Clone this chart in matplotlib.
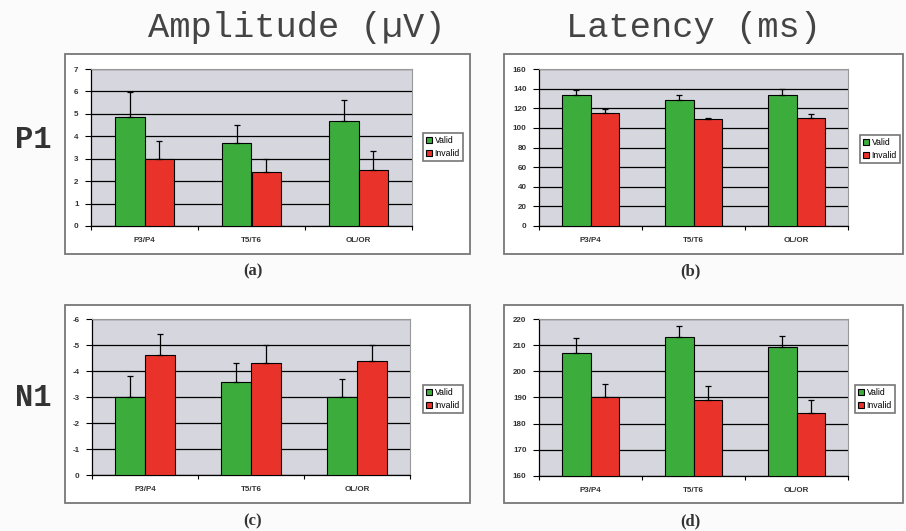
import numpy as np
import matplotlib
matplotlib.use("Agg")
import matplotlib.pyplot as plt
from matplotlib.patches import Rectangle

plt.rcParams['axes.unicode_minus'] = False
plt.rcParams['font.family'] = ['Liberation Sans', 'DejaVu Sans']

# data
sites = ['P3/P4', 'T5/T6', 'OL/OR']

p1_amp_valid = [4.87, 3.72, 4.69]
p1_amp_valid_err = [1.09, 0.77, 0.91]
p1_amp_invalid = [2.97, 2.41, 2.48]
p1_amp_invalid_err = [0.83, 0.56, 0.85]

p1_lat_valid = [133.1, 128.7, 133.8]
p1_lat_valid_err = [5.5, 4.7, 5.8]
p1_lat_invalid = [115.1, 108.6, 110.3]
p1_lat_invalid_err = [4.4, 1.4, 3.4]

n1_amp_valid = [-3.0, -3.58, -3.0]
n1_amp_valid_err = [0.8, 0.73, 0.7]
n1_amp_invalid = [-4.62, -4.31, -4.40]
n1_amp_invalid_err = [0.8, 0.68, 0.59]

n1_lat_valid = [207.1, 213.0, 209.3]
n1_lat_valid_err = [5.8, 4.2, 4.2]
n1_lat_invalid = [190.0, 189.0, 184.0]
n1_lat_invalid_err = [5.2, 5.3, 5.0]

green = '#3cad3c'
red = '#e8322a'
plot_bg = '#d6d6de'

W, H = 906, 531
fig = plt.figure(figsize=(W / 100, H / 100), dpi=100)
fig.patch.set_facecolor('#fbfbfb')


def box(x0, y0, x1, y1):
    return [x0 / W, 1 - y1 / H, (x1 - x0) / W, (y1 - y0) / H]


def panel(frame, area, valid, verr, invalid, ierr, ylim, ystep, legend_px, label, label_xy, flip=False):
    fx = box(*frame)
    fig.patches.append(Rectangle((fx[0], fx[1]), fx[2], fx[3], transform=fig.transFigure,
                                 facecolor='white', edgecolor='#777777', lw=1.3, zorder=-5))
    ax = fig.add_axes(box(*area))
    ax.set_facecolor(plot_bg)
    x = np.arange(len(sites)) + 0.5
    w = 0.28
    lo = ylim[0]
    bv = ax.bar(x - w / 2, np.array(valid) - lo, w, bottom=lo, color=green,
                edgecolor='black', lw=0.8, zorder=3, label='Valid')
    bi = ax.bar(x + w / 2, np.array(invalid) - lo, w, bottom=lo, color=red,
                edgecolor='black', lw=0.8, zorder=3, label='Invalid')
    z = np.zeros(len(sites))
    if flip:
        ev, ei = [verr, z], [ierr, z]
    else:
        ev, ei = [z, verr], [z, ierr]
    ax.errorbar(x - w / 2, valid, yerr=ev, fmt='none', ecolor='black', elinewidth=0.9,
                capsize=2.5, capthick=0.9, zorder=4)
    ax.errorbar(x + w / 2, invalid, yerr=ei, fmt='none', ecolor='black', elinewidth=0.9,
                capsize=2.5, capthick=0.9, zorder=4)
    ax.set_xlim(0, len(sites))
    ax.set_ylim(*ylim)
    ticks = np.arange(min(ylim), max(ylim) + ystep / 2, ystep)
    ax.set_yticks(ticks)
    ax.set_yticklabels(['%g' % t for t in ticks])
    ax.yaxis.grid(True, color='black', lw=0.9, zorder=1)
    ax.set_axisbelow(True)
    ax.set_xticks(x)
    ax.set_xticklabels(sites)
    ax.set_xticks(np.arange(len(sites) + 1), minor=True)
    ax.tick_params(axis='x', which='major', length=0, pad=8, labelsize=5.8)
    ax.tick_params(axis='x', which='minor', length=3, direction='out', width=0.8)
    ax.tick_params(axis='y', length=4, width=0.8, direction='out', labelsize=5.8, pad=5)
    for t in ax.get_xticklabels() + ax.get_yticklabels():
        t.set_fontweight('bold')
        t.set_color('#333333')
    for s in ['top', 'right']:
        ax.spines[s].set_color('#999999')
        ax.spines[s].set_linewidth(0.8)
    for s in ['left', 'bottom']:
        ax.spines[s].set_color('black')
        ax.spines[s].set_linewidth(0.9)
    lx0, ly0, lx1, ly1 = legend_px
    leg = fig.legend(handles=[bv, bi], labels=['Valid', 'Invalid'],
                     loc='upper left', bbox_to_anchor=(lx0 / W, 1 - ly0 / H),
                     fontsize=6.2, frameon=True, fancybox=False, edgecolor='#555555',
                     handlelength=0.7, handleheight=0.7, handletextpad=0.3,
                     borderpad=0.35, labelspacing=0.45, borderaxespad=0)
    leg.get_frame().set_linewidth(1.2)
    fig.text(label_xy[0] / W, 1 - label_xy[1] / H, label, ha='center', va='center',
             family='Liberation Serif', fontweight='bold', fontsize=12, color='#333333')
    return ax


panel((65, 54, 470, 254), (91, 69, 412, 226), p1_amp_valid, p1_amp_valid_err,
      p1_amp_invalid, p1_amp_invalid_err, (0, 7), 1, (423, 133, 468, 162), '(a)', (253, 271))
panel((504, 54, 903, 254), (539, 69, 848, 226), p1_lat_valid, p1_lat_valid_err,
      p1_lat_invalid, p1_lat_invalid_err, (0, 160), 20, (860, 135, 903, 162), '(b)', (690, 271))
panel((65, 305, 470, 503), (92, 319, 410, 475), n1_amp_valid, n1_amp_valid_err,
      n1_amp_invalid, n1_amp_invalid_err, (0, -6), 1, (423, 385, 470, 411), '(c)', (253, 521), flip=True)
panel((504, 305, 903, 503), (539, 319, 848, 476), n1_lat_valid, n1_lat_valid_err,
      n1_lat_invalid, n1_lat_invalid_err, (160, 220), 10, (855, 385, 903, 412), '(d)', (690, 521))

fig.text(297 / W, 1 - 27 / H, 'Amplitude (µV)', ha='center', va='center',
         family='Liberation Mono', fontsize=25.5, color='#444444')
fig.text(694 / W, 1 - 27 / H, 'Latency (ms)', ha='center', va='center',
         family='Liberation Mono', fontsize=25.5, color='#444444')
fig.text(33 / W, 1 - 140 / H, 'P1', ha='center', va='center',
         family='Liberation Mono', fontweight='bold', fontsize=22, color='#333333')
fig.text(33 / W, 1 - 398 / H, 'N1', ha='center', va='center',
         family='Liberation Mono', fontweight='bold', fontsize=22, color='#333333')

fig.savefig('out.png', dpi=100, facecolor=fig.get_facecolor())
